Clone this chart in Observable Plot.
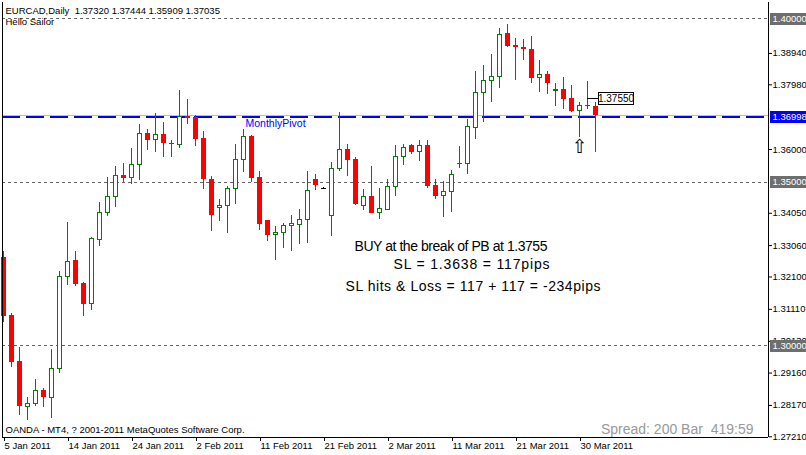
<!DOCTYPE html>
<html><head><meta charset="utf-8">
<script src="https://cdn.jsdelivr.net/npm/d3@7"></script>
<script src="https://cdn.jsdelivr.net/npm/@observablehq/plot@0.6"></script>
<style>body{margin:0;background:#fff}svg{display:block}</style>
</head><body><div id="chart"></div>
<script>
// ---- data (EURCAD daily, 5 Jan 2011 – 1 Apr 2011, Sun–Fri bars) ----
const open = [
1.32696, 1.30921, 1.29513, 1.28127, 1.28228, 1.28635, 1.28403, 1.29290, 1.32105, 1.32604,
1.31900, 1.31267, 1.33225, 1.34064, 1.34553, 1.35196, 1.35135, 1.35532, 1.36490, 1.36297,
1.36460, 1.36193, 1.36144, 1.37020, 1.36989, 1.36337, 1.35083, 1.34217, 1.34266, 1.34786,
1.35673, 1.36398, 1.35144, 1.33819, 1.33390, 1.33452, 1.33666, 1.33684, 1.33849, 1.35083,
1.34816, 1.33960, 1.35419, 1.35991, 1.35695, 1.34278, 1.34562, 1.34064, 1.34155, 1.34859,
1.35777, 1.36123, 1.35918, 1.36123, 1.34890, 1.34584, 1.34706, 1.35581, 1.35563, 1.36652,
1.37736, 1.38103, 1.38225, 1.39541, 1.39183, 1.39122, 1.39061, 1.38195, 1.38286, 1.37785,
1.37837, 1.37552, 1.37185, 1.37326, 1.37320];
const high = [
1.32879, 1.30982, 1.29942, 1.28412, 1.28963, 1.28696, 1.29881, 1.32267, 1.33758, 1.32870,
1.31921, 1.33308, 1.34370, 1.35144, 1.35471, 1.35572, 1.36022, 1.36766, 1.36613, 1.37093,
1.36827, 1.36276, 1.37806, 1.37531, 1.37050, 1.36551, 1.35184, 1.34471, 1.34868, 1.36154,
1.36613, 1.36438, 1.35327, 1.33830, 1.33644, 1.33727, 1.33981, 1.34155, 1.35337, 1.35236,
1.34828, 1.35594, 1.37133, 1.36163, 1.35765, 1.34777, 1.35480, 1.34807, 1.35073, 1.36114,
1.36163, 1.36154, 1.36276, 1.36276, 1.35073, 1.35021, 1.35349, 1.36092, 1.36919, 1.38387,
1.38571, 1.38908, 1.39694, 1.39826, 1.39397, 1.39367, 1.39458, 1.38724, 1.38387, 1.38011,
1.38204, 1.37959, 1.37430, 1.38081, 1.37444];
const low = [
1.30716, 1.29339, 1.27870, 1.27717, 1.28127, 1.28115, 1.27778, 1.29155, 1.31848, 1.31818,
1.30900, 1.31083, 1.33042, 1.33960, 1.34235, 1.34982, 1.34939, 1.35061, 1.35979, 1.35918,
1.35765, 1.35765, 1.36040, 1.36756, 1.36102, 1.34777, 1.33501, 1.33807, 1.33439, 1.34327,
1.35306, 1.35000, 1.33522, 1.33195, 1.32604, 1.32962, 1.32889, 1.33084, 1.33115, 1.34746,
1.34777, 1.33348, 1.35337, 1.35174, 1.34278, 1.34125, 1.34033, 1.33868, 1.34125, 1.34553,
1.35520, 1.35848, 1.35643, 1.34816, 1.34471, 1.33911, 1.34082, 1.35434, 1.35226, 1.36316,
1.36836, 1.37448, 1.37858, 1.39122, 1.38121, 1.38733, 1.38029, 1.37754, 1.37674, 1.37316,
1.37215, 1.37133, 1.36368, 1.37234, 1.35909];
const close = [
1.30900, 1.29492, 1.28146, 1.28228, 1.28617, 1.28403, 1.29290, 1.32105, 1.32564, 1.31879,
1.31267, 1.33268, 1.34064, 1.34553, 1.35196, 1.35122, 1.35532, 1.36481, 1.36285, 1.36450,
1.36193, 1.36144, 1.37001, 1.36958, 1.36316, 1.35073, 1.33990, 1.34287, 1.34798, 1.35685,
1.36389, 1.35122, 1.33715, 1.33378, 1.33452, 1.33666, 1.33706, 1.33849, 1.34746, 1.34908,
1.34816, 1.35410, 1.35991, 1.35673, 1.34327, 1.34553, 1.34051, 1.34165, 1.34859, 1.35777,
1.36053, 1.35918, 1.36114, 1.34868, 1.34562, 1.34706, 1.35226, 1.35551, 1.36695, 1.37736,
1.38103, 1.38225, 1.39510, 1.39162, 1.39113, 1.39051, 1.38182, 1.38286, 1.38029, 1.37827,
1.37540, 1.37163, 1.37338, 1.37347, 1.37035];

const tickDates  = ["2011-01-05","2011-01-14","2011-01-24","2011-02-02","2011-02-11","2011-02-21","2011-03-02","2011-03-11","2011-03-21","2011-03-30"];
const tickLabels = ["5 Jan 2011","14 Jan 2011","24 Jan 2011","2 Feb 2011","11 Feb 2011","21 Feb 2011","2 Mar 2011","11 Mar 2011","21 Mar 2011","30 Mar 2011"];
const priceTicks = [1.38940, 1.37980, 1.36000, 1.34050, 1.33060, 1.32100, 1.31110, 1.30130, 1.29160, 1.28170, 1.27210];
const levelLines = [1.40, 1.35, 1.30];
const pivot = 1.36998;
const bid = 1.37035;
const entry = 1.37550;
const entryBar = 73;
const pinBar = 72;

const header = "EURCAD,Daily\u00a0\u00a01.37320 1.37444 1.35909 1.37035";
const subHeader = "Hello Sailor";
const copyright = "OANDA - MT4, ? 2001-2011 MetaQuotes Software Corp.";
const spreadText = "Spread: 200 Bar\u00a0\u00a0419:59";
const notes = ["BUY at the break of PB at 1.3755", "SL = 1.3638 = 117pips", "SL hits & Loss = 117 + 117 = -234pips"];

// ---- build ----
const dates = [];
for (let d = new Date(Date.UTC(2011, 0, 5)); dates.length < open.length; d = new Date(d.getTime() + 864e5)) {
  if (d.getUTCDay() !== 6) dates.push(d.toISOString().slice(0, 10));
}
const bars = open.map((o, i) => ({i, date: dates[i], o, h: high[i], l: low[i], c: close[i],
  dir: close[i] > o ? "up" : close[i] < o ? "down" : "flat"}));
const colorOf = {up: "#008000", down: "#ff0000", flat: "#000000"};
const tickIdx = tickDates.map(d => dates.indexOf(d));
const labelAt = new Map(tickIdx.map((k, j) => [k, tickLabels[j]]));

const xDomain = [-0.125, 95.625];
const yDomain = [1.27188, 1.40499];
const xMax = xDomain[1];
const FONT = "'Liberation Sans', Arial, sans-serif";
const CRISP = "crispEdges";
const boxes = [
  ...levelLines.map(v => ({v, fill: "#6e6e6e"})),
  {v: pivot, fill: "#0000ff"}
];
const noteLayout = [
  {dx: 354, dy: 238.5, w: 193},
  {dx: 393, dy: 257, w: 156},
  {dx: 345, dy: 278.5, w: 255}
];

const chart = Plot.plot({
  width: 806, height: 455,
  marginLeft: 2, marginRight: 38, marginTop: 2, marginBottom: 18,
  style: {background: "#fff", fontFamily: FONT, overflow: "visible", color: "#000"},
  x: {type: "linear", domain: xDomain},
  y: {type: "linear", domain: yDomain},
  color: {type: "identity"},
  marks: [
    Plot.ruleY(levelLines, {stroke: "#666", strokeDasharray: "3,3", shapeRendering: CRISP}),
    Plot.ruleY([bid], {stroke: "#c0c0c0", shapeRendering: CRISP}),
    Plot.ruleY([pivot], {stroke: "#0000ff", strokeWidth: 2, strokeDasharray: "18,6", shapeRendering: CRISP}),
    Plot.ruleX(bars, {x: "i", y1: "l", y2: "h", stroke: d => colorOf[d.dir], shapeRendering: CRISP}),
    Plot.rect(bars.filter(d => d.dir === "down"), {x1: d => d.i - 0.3125, x2: d => d.i + 0.3125, y1: "o", y2: "c", fill: "#ff0000", shapeRendering: CRISP}),
    Plot.rect(bars.filter(d => d.dir === "up"), {x1: d => d.i - 0.25, x2: d => d.i + 0.25, y1: "o", y2: "c", fill: "#ffffff", stroke: "#008000", shapeRendering: CRISP}),
    Plot.ruleY(bars.filter(d => d.dir === "flat"), {y: "o", x1: d => d.i - 0.3125, x2: d => d.i + 0.3125, stroke: "#000", shapeRendering: CRISP}),
    // frame
    Plot.ruleX(xDomain, {stroke: "#000", shapeRendering: CRISP}),
    Plot.ruleY([yDomain[0]], {stroke: "#000", shapeRendering: CRISP}),
    // axes
    Plot.axisY({anchor: "right", ticks: priceTicks, tickFormat: d => d.toFixed(5), tickSize: 3, tickPadding: 1, fontSize: 9.5, label: null}),
    Plot.axisX({ticks: tickIdx, tickFormat: i => labelAt.get(i), tickSize: 4, tickPadding: 1, textAnchor: "start", dx: 1, fontSize: 9.5, label: null}),
    // price boxes on the scale
    Plot.ruleY(boxes, {y: "v", x1: xMax + 0.25, x2: xMax + 4.9, stroke: "fill", strokeWidth: 12, shapeRendering: CRISP}),
    Plot.text(boxes, {y: "v", x: xMax + 0.25, text: d => d.v.toFixed(5), textAnchor: "start", dx: 2, fill: "#fff", fontSize: 9.5}),
    // pivot label
    Plot.text([pivot], {x: 30.25, y: d => d, text: () => "MonthlyPivot", textAnchor: "start", lineAnchor: "top", dy: 3, fill: "#0000ff", fontSize: 10.5}),
    // entry label
    Plot.ruleY([entry], {x1: entryBar, x2: entryBar + 1.375, stroke: "#000", shapeRendering: CRISP}),
    Plot.rect([entry], {x1: entryBar + 1.375, x2: entryBar + 5.75, y1: d => d - 0.0019, y2: d => d + 0.0019, fill: "#fff", stroke: "#000", shapeRendering: CRISP}),
    Plot.text([entry], {x: entryBar + 3.5625, y: d => d, text: d => d.toFixed(5), fontSize: 10}),
    // pin bar arrow
    Plot.text([bars[pinBar]], {x: "i", y: "l", text: () => "\u21e7", dy: 9.5, fontSize: 19, fontFamily: "'DejaVu Sans'"}),
    // texts
    Plot.text([header], {text: d => d, frameAnchor: "top-left", lineAnchor: "top", textAnchor: "start", dx: 3, dy: 4.5, fontSize: 9.5}),
    Plot.text([subHeader], {text: d => d, frameAnchor: "top-left", lineAnchor: "top", textAnchor: "start", dx: 3, dy: 15.5, fontSize: 9.5}),
    Plot.text([copyright], {text: d => d, frameAnchor: "top-left", lineAnchor: "top", textAnchor: "start", dx: 3, dy: 424, fontSize: 9.5}),
    Plot.text([spreadText], {text: d => d, frameAnchor: "top-left", lineAnchor: "top", textAnchor: "end", dx: 751, dy: 421.5, fontSize: 14, fill: "#999"}),
    ...notes.map((t, k) => Plot.text([t], {text: d => d, frameAnchor: "top-left", lineAnchor: "top", textAnchor: "start",
      dx: noteLayout[k].dx - 2, dy: noteLayout[k].dy, fontSize: 14}))
  ]
});
// stretch the annotation lines to the reference's widths
d3.select(chart).selectAll("text").each(function () {
  const k = notes.indexOf(this.textContent);
  if (k >= 0) {
    d3.select(this).attr("textLength", noteLayout[k].w).attr("lengthAdjust", "spacing");
  }
});
document.getElementById("chart").appendChild(chart);
</script>
</body></html>
